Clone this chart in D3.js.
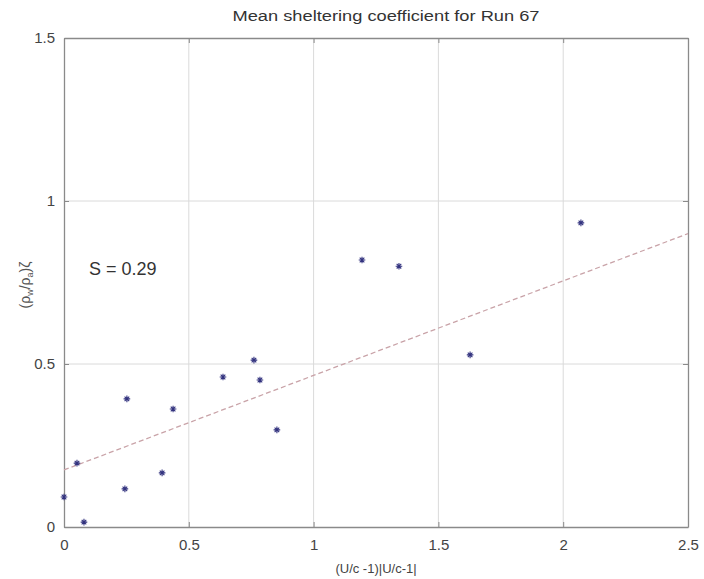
<!DOCTYPE html>
<html><head><meta charset="utf-8">
<script src="https://cdnjs.cloudflare.com/ajax/libs/d3/7.8.5/d3.min.js"></script>
<style>body{margin:0;background:#fff}svg{display:block}text{font-family:"Liberation Sans",Arial,sans-serif}</style>
</head><body><svg id="c" width="704" height="579"></svg>
<script>
const xVals = [0.0, 0.052, 0.08, 0.244, 0.252, 0.393, 0.437, 0.637, 0.761, 0.785, 0.853, 1.194, 1.342, 1.627, 2.071];
const yVals = [0.092, 0.196, 0.015, 0.117, 0.393, 0.166, 0.362, 0.46, 0.512, 0.451, 0.298, 0.819, 0.80, 0.528, 0.933];
const xTicks = [0, 0.5, 1, 1.5, 2, 2.5];
const xTickLabels = ["0", "0.5", "1", "1.5", "2", "2.5"];
const yTicks = [0, 0.5, 1, 1.5];
const yTickLabels = ["0", "0.5", "1", "1.5"];
const slope = 0.29, intercept = 0.175;
const fitX = [0, 2.5];

const svg = d3.select("#c");
const L = 64, R = 688, T = 38, B = 527;
const x = d3.scaleLinear().domain([0, 2.5]).range([L, R]);
const y = d3.scaleLinear().domain([0, 1.5]).range([B, T]);

// grid
svg.append("g").selectAll("line.gx").data(xTicks.slice(1, -1)).join("line")
  .attr("x1", d => x(d)).attr("x2", d => x(d)).attr("y1", T).attr("y2", B)
  .attr("stroke", "#dadada").attr("stroke-width", 1);
svg.append("g").selectAll("line.gy").data(yTicks.slice(1, -1)).join("line")
  .attr("y1", d => y(d)).attr("y2", d => y(d)).attr("x1", L).attr("x2", R)
  .attr("stroke", "#dadada").attr("stroke-width", 1);

// axes with inward ticks
const xAxis = d3.axisBottom(x).tickValues(xTicks).tickFormat((d, i) => xTickLabels[i]).tickSizeInner(-5).tickSizeOuter(0).tickPadding(12);
const yAxis = d3.axisLeft(y).tickValues(yTicks).tickFormat((d, i) => yTickLabels[i]).tickSizeInner(-5).tickSizeOuter(0).tickPadding(9);
const gx = svg.append("g").attr("transform", `translate(0,${B})`).call(xAxis);
const gy = svg.append("g").attr("transform", `translate(${L},0)`).call(yAxis);
const gx2 = svg.append("g").attr("transform", `translate(0,${T})`).call(d3.axisTop(x).tickValues(xTicks).tickFormat("").tickSizeInner(-5).tickSizeOuter(0));
const gy2 = svg.append("g").attr("transform", `translate(${R},0)`).call(d3.axisRight(y).tickValues(yTicks).tickFormat("").tickSizeInner(-5).tickSizeOuter(0));
[gx, gy, gx2, gy2].forEach(g => {
  g.selectAll("path.domain").attr("stroke", "#8a8a8a").attr("stroke-width", 1.3);
  g.selectAll(".tick line").attr("stroke", "#8a8a8a");
  g.selectAll(".tick text").attr("fill", "#444").attr("font-size", 15);
});

// fit line
svg.append("line")
  .attr("x1", x(fitX[0])).attr("y1", y(intercept + slope * fitX[0]))
  .attr("x2", x(fitX[1])).attr("y2", y(intercept + slope * fitX[1]))
  .attr("stroke", "#c9a3a8").attr("stroke-width", 1.3).attr("stroke-dasharray", "5,3");

// star markers
const s = 3.3;
const pts = svg.append("g").selectAll("g").data(xVals.map((d, i) => [d, yVals[i]])).join("g")
  .attr("transform", d => `translate(${x(d[0])},${y(d[1])})`)
  .attr("stroke", "#33337f").attr("stroke-width", 1.1);
pts.append("path").attr("d", `M${-s},0H${s}M0,${-s}V${s}M${-s*0.7},${-s*0.7}L${s*0.7},${s*0.7}M${-s*0.7},${s*0.7}L${s*0.7},${-s*0.7}`);

// texts
svg.append("text").attr("x", (L + R) / 2 + 10).attr("y", 21).attr("text-anchor", "middle")
  .attr("font-size", 14).attr("fill", "#333").attr("textLength", 307).attr("lengthAdjust", "spacingAndGlyphs")
  .text("Mean sheltering coefficient for Run 67");
svg.append("text").attr("x", (L + R) / 2).attr("y", 573).attr("text-anchor", "middle")
  .attr("font-size", 13).attr("fill", "#444").text("(U/c -1)|U/c-1|");
const yl = svg.append("text").attr("transform", `translate(30,${285}) rotate(-90)`).attr("text-anchor", "middle")
  .attr("font-size", 14).attr("fill", "#555");
yl.append("tspan").text("(ρ");
yl.append("tspan").attr("font-size", 9).attr("dy", 3).text("w");
yl.append("tspan").attr("dy", -3).text("/ρ");
yl.append("tspan").attr("font-size", 9).attr("dy", 3).text("a");
yl.append("tspan").attr("dy", -3).text(")ζ");
svg.append("text").attr("x", 89).attr("y", 275).attr("font-size", 18).attr("fill", "#333").text("S = 0.29");
</script></body></html>
